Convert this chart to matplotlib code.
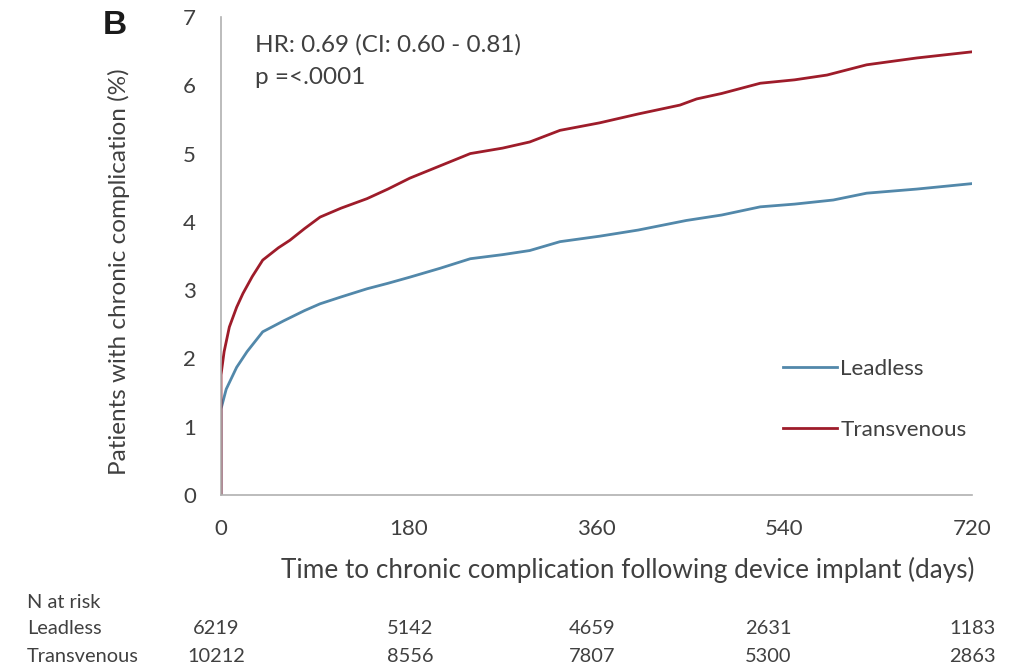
import matplotlib
matplotlib.use("Agg")
import matplotlib.pyplot as plt
from matplotlib.lines import Line2D

# ---------------- data ----------------
days_transvenous = [0, 0, 3, 8, 15, 21, 30, 40, 55, 66, 80, 95, 115, 140, 160, 181,
                    210, 239, 270, 296, 325, 363, 400, 440, 456, 480, 517, 550, 581,
                    619, 667, 720]
pct_transvenous = [0, 1.76, 2.1, 2.46, 2.75, 2.95, 3.2, 3.44, 3.62, 3.73, 3.9, 4.07,
                   4.2, 4.34, 4.48, 4.64, 4.82, 5.0, 5.08, 5.17, 5.34, 5.45, 5.58,
                   5.71, 5.8, 5.88, 6.03, 6.08, 6.15, 6.3, 6.40, 6.49]

days_leadless = [0, 0, 5, 15, 25, 40, 60, 80, 95, 115, 140, 160, 181, 210, 239, 270,
                 296, 325, 363, 400, 446, 480, 517, 550, 587, 619, 667, 720]
pct_leadless = [0, 1.26, 1.55, 1.87, 2.1, 2.39, 2.55, 2.7, 2.8, 2.9, 3.02, 3.1, 3.19,
                3.32, 3.46, 3.52, 3.58, 3.71, 3.79, 3.88, 4.02, 4.1, 4.22, 4.26, 4.32,
                4.42, 4.48, 4.56]

x_ticks = [0, 180, 360, 540, 720]
y_ticks = [0, 1, 2, 3, 4, 5, 6, 7]

risk_groups = ["Leadless", "Transvenous"]
risk_leadless = [6219, 5142, 4659, 2631, 1183]
risk_transvenous = [10212, 8556, 7807, 5300, 2863]

series_names = ["Leadless", "Transvenous"]
hr_text = "HR: 0.69 (CI: 0.60 - 0.81)"
p_text = "p =<.0001"
panel_label = "B"
x_label = "Time to chronic complication following device implant (days)"
y_label = "Patients with chronic complication (%)"

# ---------------- style ----------------
W, H = 1012, 668
FONT = ["Lato", "DejaVu Sans"]
TXT = "#404040"
RED = "#9E1C2A"
BLUE = "#5288AA"
plt.rcParams["font.family"] = FONT

fig = plt.figure(figsize=(W / 100, H / 100), dpi=100)
fig.patch.set_facecolor("white")

def fx(px):
    return px / W

def fy(py):
    return 1 - py / H

ax = fig.add_axes([fx(221), fy(495), fx(972) - fx(221), fy(17) - fy(495)])

ax.plot(days_leadless, pct_leadless, color=BLUE, lw=2.0, solid_joinstyle="round")
ax.plot(days_transvenous, pct_transvenous, color=RED, lw=2.0, solid_joinstyle="round")

ax.set_xlim(0, 720)
ax.set_ylim(0, 7)
ax.set_xticks(x_ticks)
ax.set_yticks(y_ticks)
ax.tick_params(length=0, labelsize=16, colors=TXT)
ax.tick_params(axis="y", pad=18)
ax.tick_params(axis="x", pad=17)
for s in ["top", "right"]:
    ax.spines[s].set_visible(False)
for s in ["left", "bottom"]:
    ax.spines[s].set_color("#B0B0B0")
    ax.spines[s].set_linewidth(1.2)

# annotations
fig.text(fx(255), fy(45), hr_text, fontsize=17.5, color=TXT, va="center", ha="left")
fig.text(fx(255), fy(78), p_text, fontsize=17.5, color=TXT, va="center", ha="left")
fig.text(fx(115), fy(26), panel_label, fontsize=24, fontweight="bold",
         family=["Liberation Sans", "DejaVu Sans"], color="#1a1a1a",
         va="center", ha="center")

# axis labels
fig.text(fx(628), fy(570), x_label, fontsize=18.8, color=TXT, ha="center", va="center")
fig.text(fx(119), fy(272), y_label, fontsize=17.5, color=TXT, ha="center",
         va="center", rotation=90)

# legend
handles = [Line2D([], [], color=BLUE, lw=2.0), Line2D([], [], color=RED, lw=2.0)]
ax.legend(handles, series_names, loc="upper left",
          bbox_to_anchor=(fx(783), fy(359)), bbox_transform=fig.transFigure,
          frameon=False, fontsize=16.2, handlelength=2.4, handletextpad=0.15,
          labelspacing=1.82, borderpad=0, borderaxespad=0, labelcolor=TXT)

# N at risk table
col_centers = [216, 410, 592, 768, 972]
row_y = [628, 656]
fig.text(fx(27), fy(602), "N at risk", fontsize=14.4, color=TXT, ha="left", va="center")
for name, vals, ry in zip(risk_groups, [risk_leadless, risk_transvenous], row_y):
    fig.text(fx(27), fy(ry), name, fontsize=14.4, color=TXT, ha="left", va="center")
    for v, cx in zip(vals, col_centers):
        fig.text(fx(cx), fy(ry), str(v), fontsize=14.4, color=TXT, ha="center", va="center")

fig.savefig("out.png", dpi=100, facecolor="white")
